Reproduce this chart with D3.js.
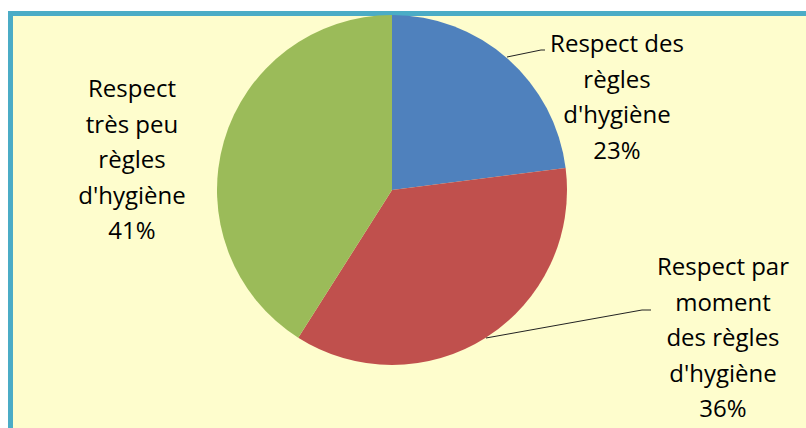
<!DOCTYPE html>
<html>
<head>
    <style>
        body { margin: 0; background: #fff; }
        .lbl { font-family: "Open Sans", sans-serif; font-size: 24px; fill: #000; text-anchor: middle; }
    </style>
    <script src="https://d3js.org/d3.v7.min.js"></script>
</head>
<body>
    <svg width="806" height="428"></svg>
    <script>
        const categories = ["Respect des règles d'hygiène", "Respect par moment des règles d'hygiène", "Respect très peu règles d'hygiène"]
        const values = [23, 36, 41]
        const colors = ["#4F81BD", "#C0504D", "#9BBB59"]
        // label lines as they wrap in the picture
        const labelLines = [
            ["Respect des", "règles", "d'hygiène", "23%"],
            ["Respect par", "moment", "des règles", "d'hygiène", "36%"],
            ["Respect", "très peu", "règles", "d'hygiène", "41%"]
        ]

        const svg = d3.select("svg")
        const cx = 392, cy = 190, r = 175

        // frame: light yellow area, blue border top and left
        svg.append("rect").attr("x", 8).attr("y", 11).attr("width", 806).attr("height", 428)
            .attr("fill", "#4BACC6")
        svg.append("rect").attr("x", 13).attr("y", 16).attr("width", 806).attr("height", 428)
            .attr("fill", "#FEFDCD")

        const pie = d3.pie().sort(null).value(d => d)
        const arc = d3.arc().innerRadius(0).outerRadius(r)
        const arcs = pie(values)

        const g = svg.append("g").attr("transform", `translate(${cx},${cy})`)
        g.selectAll("path")
            .data(arcs)
            .join("path")
            .attr("d", arc)
            .attr("fill", (d, i) => colors[i])

        // label placement (center x, first baseline y) and leader lines
        const labelPos = [[617, 52], [723, 275], [132, 97]]
        const leaders = [
            [[507, 57], [541, 50], [545, 50]],
            [[486, 338], [642, 310], [651, 310]],
            null
        ]
        const lineH = 35.5

        leaders.forEach(pts => {
            if (!pts) return
            svg.append("path")
                .attr("d", d3.line()(pts))
                .attr("stroke", "#222")
                .attr("stroke-width", 1)
                .attr("fill", "none")
        })

        labelLines.forEach((lines, i) => {
            const t = svg.append("text").attr("class", "lbl")
                .attr("x", labelPos[i][0]).attr("y", labelPos[i][1])
            lines.forEach((s, k) => {
                t.append("tspan").attr("x", labelPos[i][0]).attr("y", labelPos[i][1] + k * lineH).text(s)
            })
        })
    </script>
</body>
</html>
